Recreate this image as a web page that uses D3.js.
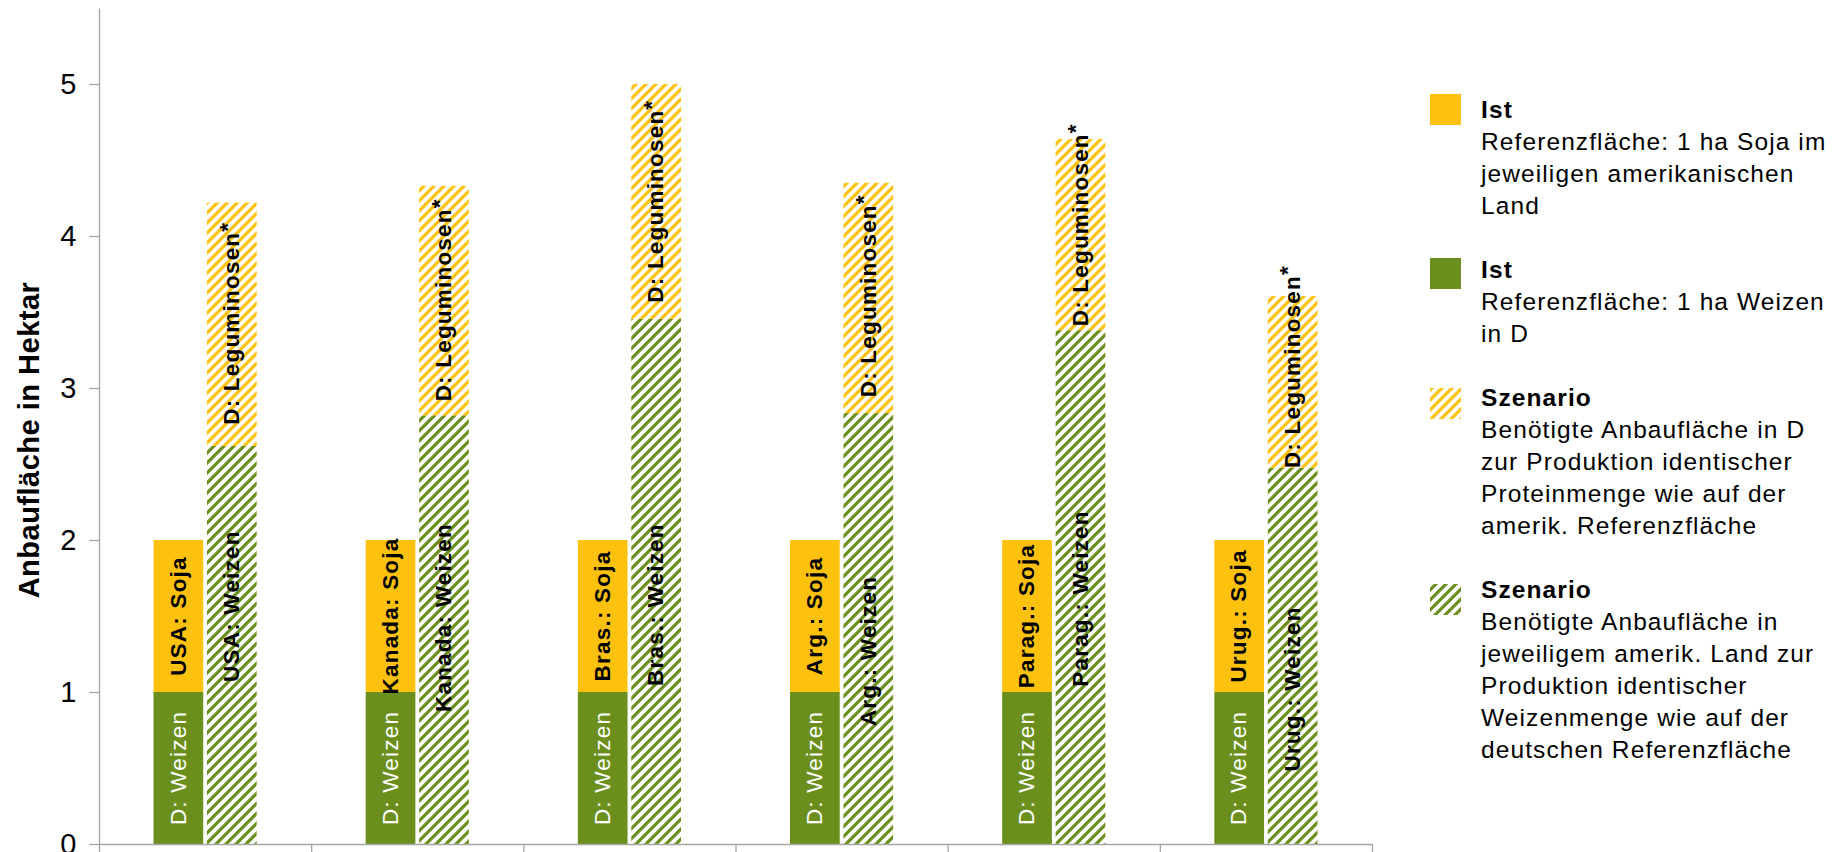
<!DOCTYPE html>
<html>
<head>
<meta charset="utf-8">
<script src="https://cdn.jsdelivr.net/npm/d3@7"></script>
<style>
  html, body { margin: 0; padding: 0; background: #fff; }
  svg text { font-family: "Liberation Sans", Arial, sans-serif; }
</style>
</head>
<body>
<div id="chart"></div>
<script>
// Countries (short names as used in the bar labels)
const countries = ['USA', 'Kanada', 'Bras.', 'Arg.', 'Parag.', 'Urug.'];

// Ist: 1 ha Weizen in D + 1 ha Soja in the american country
const istWeizen = [1, 1, 1, 1, 1, 1];
const istSoja = [1, 1, 1, 1, 1, 1];

// Szenario: Weizen in american country + Leguminosen in D (stacked)
const szenWeizen = [2.62, 2.82, 3.455, 2.835, 3.38, 2.475];
const szenLegum = [1.6, 1.51, 1.545, 1.515, 1.258, 1.13];

// where the hand-placed labels of the Szenario bar sit (axis units)
const szenWeizenLabelAt = [1.565, 1.49, 1.575, 1.27, 1.615, 1.02];
const szenLegumLabelAt = [3.426, 3.58, 4.229, 3.607, 4.074, 3.141];

const yTicks = [0, 1, 2, 3, 4, 5];

const legendItems = [
  { fill: 'yellow', title: 'Ist', lines: ['Referenzfläche: 1 ha Soja im', 'jeweiligen amerikanischen', 'Land'] },
  { fill: 'green', title: 'Ist', lines: ['Referenzfläche: 1 ha Weizen', 'in D'] },
  { fill: 'hatchYellow', title: 'Szenario', lines: ['Benötigte Anbaufläche in D', 'zur Produktion identischer', 'Proteinmenge wie auf der', 'amerik. Referenzfläche'] },
  { fill: 'hatchGreen', title: 'Szenario', lines: ['Benötigte Anbaufläche in', 'jeweiligem amerik. Land zur', 'Produktion identischer', 'Weizenmenge wie auf der', 'deutschen Referenzfläche'] },
];

const width = 1834;
const height = 852;
const plot = { left: 99, right: 1372, top: 8, bottom: 844 };

const YELLOW = '#FEC20E';
const GREEN = '#6A8F1C';
const AXIS = '#a6a6a6';

const svg = d3.select('#chart').append('svg')
  .attr('width', width)
  .attr('height', height);

// hatch patterns (wide upward diagonal)
const defs = svg.append('defs');
function hatch(id, color) {
  const s = 10;
  const p = defs.append('pattern')
    .attr('id', id)
    .attr('patternUnits', 'userSpaceOnUse')
    .attr('width', s)
    .attr('height', s);
  p.append('rect').attr('width', s).attr('height', s).attr('fill', '#fff');
  p.append('path')
    .attr('d', `M-2,2 L2,-2 M0,${s} L${s},0 M${s - 2},${s + 2} L${s + 2},${s - 2}`)
    .attr('stroke', color)
    .attr('stroke-width', 3.2)
    .attr('stroke-linecap', 'square');
}
hatch('hatchYellow', YELLOW);
hatch('hatchGreen', GREEN);
const fills = { yellow: YELLOW, green: GREEN, hatchYellow: 'url(#hatchYellow)', hatchGreen: 'url(#hatchGreen)' };

// scales
const x = d3.scaleBand().domain(countries).range([plot.left, plot.right]).padding(0);
const inner = d3.scaleBand().domain(['ist', 'szen']).range([0, x.bandwidth()])
  .paddingOuter(1.02).paddingInner(0.07);
const y = d3.scaleLinear().domain([0, 5.5]).range([plot.bottom, plot.top]);

// build segments
const segments = [];
countries.forEach((c, i) => {
  segments.push({ c, grp: 'ist', y0: 0, y1: istWeizen[i], fill: 'green',
    label: 'D: Weizen', at: istWeizen[i] / 2, color: '#fff', bold: false });
  segments.push({ c, grp: 'ist', y0: istWeizen[i], y1: istWeizen[i] + istSoja[i], fill: 'yellow',
    label: c + ': Soja', at: istWeizen[i] + istSoja[i] / 2, color: '#000', bold: true });
  segments.push({ c, grp: 'szen', y0: 0, y1: szenWeizen[i], fill: 'hatchGreen',
    label: c + ': Weizen', at: szenWeizenLabelAt[i], color: '#000', bold: true });
  segments.push({ c, grp: 'szen', y0: szenWeizen[i], y1: szenWeizen[i] + szenLegum[i], fill: 'hatchYellow',
    label: 'D: Leguminosen', star: true, at: szenLegumLabelAt[i], color: '#000', bold: true });
});

svg.append('g')
  .selectAll('rect')
  .data(segments)
  .join('rect')
  .attr('x', (d) => x(d.c) + inner(d.grp))
  .attr('width', inner.bandwidth())
  .attr('y', (d) => y(d.y1))
  .attr('height', (d) => y(d.y0) - y(d.y1))
  .attr('fill', (d) => fills[d.fill]);

// labels inside bars, rotated
const labels = svg.append('g')
  .selectAll('text')
  .data(segments)
  .join('text')
  .attr('transform', (d) => `translate(${x(d.c) + inner(d.grp) + inner.bandwidth() / 2},${y(d.at)}) rotate(-90)`)
  .attr('text-anchor', 'middle')
  .attr('dy', '0.32em')
  .attr('font-size', 22.5)
  .attr('letter-spacing', 1.2)
  .attr('font-weight', (d) => (d.bold ? 'bold' : 'normal'))
  .attr('fill', (d) => d.color);
labels.append('tspan').text((d) => d.label);
labels.filter((d) => d.star).append('tspan').attr('dy', '-0.2em').text('*');

// axes
const yAxis = svg.append('g')
  .attr('transform', `translate(${plot.left},0)`)
  .call(d3.axisLeft(y).tickValues(yTicks).tickFormat(d3.format('d'))
    .tickSize(9.5).tickSizeOuter(0).tickPadding(13));
yAxis.selectAll('path, line').attr('stroke', AXIS).attr('stroke-width', 1.3);
yAxis.selectAll('text').attr('font-size', 29).attr('fill', '#000')
  .style('font-family', '"Liberation Sans", Arial, sans-serif');

const xb = d3.scaleLinear().domain([0, countries.length]).range([plot.left, plot.right]);
const xAxis = svg.append('g')
  .attr('transform', `translate(0,${plot.bottom})`)
  .call(d3.axisBottom(xb).ticks(countries.length).tickSize(12).tickSizeOuter(0).tickFormat(''));
xAxis.selectAll('path, line').attr('stroke', AXIS).attr('stroke-width', 1.3);

svg.append('text')
  .attr('transform', `translate(39,440) rotate(-90)`)
  .attr('text-anchor', 'middle')
  .attr('font-size', 29)
  .attr('letter-spacing', 0.5)
  .attr('font-weight', 'bold')
  .text('Anbaufläche in Hektar');

// legend
const lineH = 32;
const legend = svg.append('g').attr('transform', 'translate(1430,0)');
const swatchTop = [94, 258, 388, 584];
let base = 118;
legendItems.forEach((item, i) => {
  legend.append('rect')
    .attr('x', 0).attr('y', swatchTop[i])
    .attr('width', 31).attr('height', 31)
    .attr('fill', fills[item.fill]);
  const t = legend.append('text').attr('x', 51).attr('y', base)
    .attr('font-size', 24.5).attr('letter-spacing', 1.1);
  t.append('tspan').attr('x', 51).attr('font-weight', 'bold').text(item.title);
  item.lines.forEach((l) => {
    t.append('tspan').attr('x', 51).attr('dy', lineH).text(l);
  });
  base += (item.lines.length + 2) * lineH;
});
</script>
</body>
</html>
